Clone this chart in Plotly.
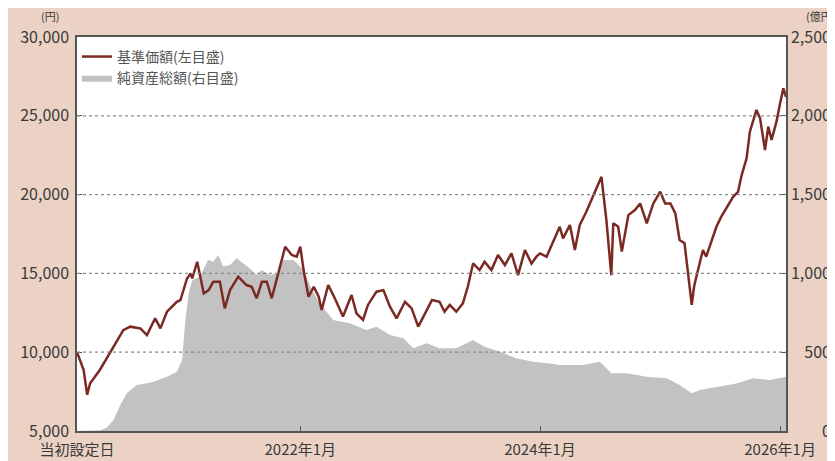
import plotly.graph_objects as go

# ---- data ----
nav_dates = [
    "2020-02-21","2020-03-12","2020-03-23","2020-04-01","2020-05-01","2020-06-11","2020-07-11",
    "2020-08-01","2020-09-01","2020-09-21","2020-10-16","2020-11-01","2020-11-21","2020-12-21",
    "2021-01-01","2021-01-21","2021-02-01","2021-02-06","2021-02-21","2021-03-13","2021-03-28",
    "2021-04-11","2021-05-01","2021-05-16","2021-06-01","2021-06-26","2021-07-21","2021-08-06",
    "2021-08-21","2021-09-06","2021-09-21","2021-10-06","2021-10-26","2021-11-16","2021-12-06",
    "2021-12-21","2022-01-01","2022-01-11","2022-01-26","2022-02-11","2022-02-26","2022-03-07",
    "2022-03-27","2022-04-16","2022-05-11","2022-06-06","2022-06-21","2022-07-11","2022-07-26",
    "2022-08-21","2022-09-11","2022-10-01","2022-10-21","2022-11-16","2022-12-06","2022-12-26",
    "2023-01-11","2023-02-06","2023-03-01","2023-03-16","2023-04-01","2023-04-21","2023-05-11",
    "2023-05-26","2023-06-11","2023-07-01","2023-07-16","2023-08-06","2023-08-26","2023-09-16",
    "2023-10-06","2023-10-26","2023-11-16","2023-12-06","2023-12-21","2024-01-01","2024-01-21",
    "2024-02-10","2024-03-01","2024-03-11","2024-04-01","2024-04-16","2024-05-01","2024-05-21",
    "2024-06-10","2024-07-06","2024-07-21","2024-08-05","2024-08-11","2024-08-26","2024-09-06",
    "2024-09-26","2024-10-16","2024-11-01","2024-11-21","2024-12-11","2025-01-01","2025-01-16",
    "2025-02-01","2025-02-16","2025-03-01","2025-03-16","2025-04-07","2025-04-14","2025-04-21",
    "2025-05-11","2025-05-21","2025-06-06","2025-06-21","2025-07-06","2025-07-21","2025-08-11",
    "2025-08-26","2025-09-06","2025-09-21","2025-10-01","2025-10-21","2025-11-01","2025-11-16",
    "2025-11-26","2025-12-06","2025-12-21","2026-01-01","2026-01-11","2026-01-19",
]
nav_values = [
    10000, 8890, 7300, 8030, 8890, 10350, 11400,
    11620, 11510, 11090, 12150, 11510, 12570, 13200,
    13310, 14680, 15000, 14680, 15740, 13730, 13940,
    14470, 14470, 12780, 13940, 14790, 14260, 14150,
    13420, 14470, 14470, 13420, 15000, 16690, 16170,
    16060, 16690, 15210, 13520, 14150, 13520, 12680,
    14260, 13420, 12260, 13630, 12470, 12050, 13000,
    13840, 13940, 12890, 12150, 13200, 12780, 11620,
    12260, 13310, 13200, 12570, 13000, 12570, 13100,
    14150, 15630, 15210, 15740, 15210, 16170, 15530,
    16270, 14890, 16480, 15630, 16060, 16270, 16060,
    17010, 17960, 17220, 18070, 16480, 18070, 18910,
    19860, 21130, 18390, 14890, 18180, 17960, 16380,
    18700, 19020, 19440, 18180, 19440, 20180, 19440,
    19440, 18810, 17120, 16910, 13000, 14150, 14790,
    16480, 16060, 17010, 17960, 18600, 19120, 19860,
    20180, 21240, 22300, 23990, 25370, 24840, 22830,
    24310, 23470, 24630, 25790, 26740, 26200,
]

aum_dates = [
    "2020-02-21","2020-05-01","2020-05-21","2020-06-11","2020-07-01","2020-07-21","2020-08-21",
    "2020-09-01","2020-10-11","2020-11-21","2020-12-21","2021-01-06","2021-01-16","2021-01-26",
    "2021-02-06","2021-03-01","2021-03-26","2021-04-11","2021-04-26","2021-05-11","2021-06-01",
    "2021-06-21","2021-07-11","2021-08-06","2021-08-21","2021-09-06","2021-10-01","2021-10-21",
    "2021-11-11","2021-12-11","2022-01-11","2022-02-01","2022-03-01","2022-04-11","2022-06-01",
    "2022-07-21","2022-08-21","2022-10-01","2022-11-11","2022-12-11","2023-01-21","2023-03-01",
    "2023-04-21","2023-06-11","2023-07-16","2023-09-01","2023-10-21","2023-12-11","2024-01-31",
    "2024-03-01","2024-05-11","2024-07-01","2024-08-05","2024-09-21","2024-11-21","2025-01-21",
    "2025-03-01","2025-04-07","2025-05-01","2025-07-01","2025-08-21","2025-10-11","2025-12-01",
    "2026-01-19",
]
aum_values = [
    0, 5, 20, 70, 160, 240, 292,
    295, 313, 345, 376, 450, 704, 874,
    958, 979, 1085, 1074, 1117, 1043, 1053,
    1096, 1064, 1022, 990, 1022, 990, 1001,
    1085, 1085, 1022, 916, 810, 704, 683,
    641, 662, 609, 588, 525, 556, 525,
    525, 577, 535, 503, 461, 440, 429,
    419, 419, 440, 366, 366, 345, 334,
    292, 239, 260, 281, 302, 334, 323,
    345,
]

x_tick_vals = ["2020-02-21", "2022-01-01", "2024-01-01", "2026-01-01"]
x_tick_text = ["当初設定日", "2022年1月", "2024年1月", "2026年1月"]
nav_ticks = [5000, 10000, 15000, 20000, 25000, 30000]
aum_ticks = [0, 500, 1000, 1500, 2000, 2500]
# right-axis labels are right-aligned in the reference: pad with figure/punctuation spaces
aum_tick_text = ["\u2007\u2008\u2007\u20070", "\u2007\u2008500", "1,000", "1,500", "2,000", "2,500"]
grid_vals = [10000, 15000, 20000, 25000]

FONT = "Noto Sans CJK JP"
BG = "#ebd2c4"
LINE = "#7a2a22"
AREA = "#c2c2c2"
AXIS = "#555555"
TXT = "#3a3a3a"

fig = go.Figure()
fig.add_trace(go.Scatter(
    x=aum_dates, y=aum_values, name="純資産総額(右目盛)", yaxis="y",
    mode="lines", line=dict(width=0, color=AREA), fill="tozeroy", fillcolor=AREA,
    legendrank=2, hoverinfo="skip",
))
fig.add_trace(go.Scatter(
    x=nav_dates, y=nav_values, name="基準価額(左目盛)", yaxis="y2",
    mode="lines", line=dict(width=2.5, color=LINE), legendrank=1,
))

for g in grid_vals:
    fig.add_shape(type="line", xref="paper", x0=0, x1=1, yref="y2", y0=g, y1=g,
                  line=dict(color="#8a8a8a", width=1.2, dash="dot"), layer="above")

fig.update_layout(
    width=835, height=461,
    margin=dict(l=69, r=57, t=29, b=38, autoexpand=False),
    paper_bgcolor=BG, plot_bgcolor="white",
    font=dict(family=FONT, size=16, color=TXT),
    showlegend=True,
    legend=dict(x=0.0, y=0.99, xanchor="left", yanchor="top", bgcolor="rgba(0,0,0,0)",
                font=dict(size=14, color="#555555"), tracegroupgap=0, itemwidth=30),
    xaxis=dict(
        type="date", range=["2020-02-21", "2026-01-19"],
        tickmode="array", tickvals=x_tick_vals, ticktext=x_tick_text,
        ticks="inside", ticklen=5, tickcolor=AXIS, showgrid=False,
        showline=True, linecolor=AXIS, linewidth=1.5, mirror=True,
        ticklabelstandoff=4, automargin=False,
        tickfont=dict(size=15, color=TXT),
    ),
    yaxis=dict(
        side="right", range=[0, 2500], tickmode="array", tickvals=aum_ticks,
        ticktext=aum_tick_text, ticks="inside", ticklen=5, tickcolor=AXIS,
        showgrid=False, showline=True, linecolor=AXIS, linewidth=1.5,
        zeroline=False, ticklabelstandoff=0, automargin=False,
        tickfont=dict(size=16, color=TXT),
    ),
    yaxis2=dict(
        side="left", overlaying="y", range=[5000, 30000], tickmode="array",
        tickvals=nav_ticks, tickformat=",", ticks="inside", ticklen=5, tickcolor=AXIS,
        showgrid=False, showline=True, linecolor=AXIS, linewidth=1.5,
        zeroline=False, ticklabelstandoff=3, automargin=False,
        tickfont=dict(size=16, color=TXT),
    ),
    annotations=[
        dict(text="(円)", xref="paper", yref="paper", x=0, y=1, xanchor="right",
             yanchor="bottom", xshift=-16, yshift=11, showarrow=False,
             font=dict(size=11, color=TXT)),
        dict(text="(億円)", xref="paper", yref="paper", x=1, y=1, xanchor="left",
             yanchor="bottom", xshift=18, yshift=11, showarrow=False,
             font=dict(size=11, color=TXT)),
    ],
)

fig.write_html("out.html")
